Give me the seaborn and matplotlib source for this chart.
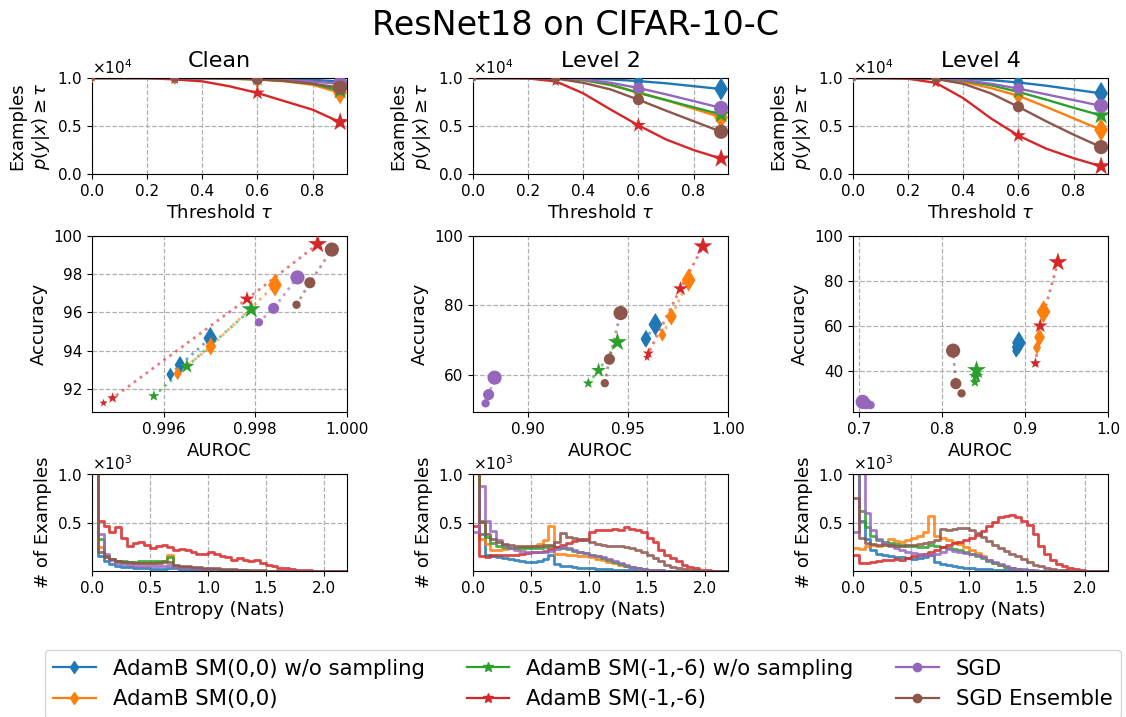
import numpy as np
import matplotlib
matplotlib.use("Agg")
import matplotlib.pyplot as plt
from matplotlib.lines import Line2D
import seaborn as sns

# ---------------------------------------------------------------- data
methods = ["AdamB SM(0,0) w/o sampling", "AdamB SM(0,0)",
           "AdamB SM(-1,-6) w/o sampling", "AdamB SM(-1,-6)",
           "SGD", "SGD Ensemble"]
levels = ["Clean", "Level 2", "Level 4"]

# confidence thresholds for the retained-example curves
thresholds = [0.0, 0.1, 0.2, 0.3, 0.4, 0.5, 0.6, 0.7, 0.8, 0.9]
marked_thresholds = [0.0, 0.3, 0.6, 0.9]

# number of examples with p(y|x) >= tau, per level and method
kept_clean = [
    [10000, 10000, 10000, 9995, 9988, 9975, 9955, 9910, 9820, 9620],
    [10000, 10000, 10000, 9990, 9970, 9920, 9850, 9650, 9300, 8450],
    [10000, 10000, 10000, 9990, 9975, 9930, 9870, 9700, 9400, 8700],
    [10000, 10000, 9990, 9850, 9650, 9130, 8440, 7570, 6700, 5400],
    [10000, 10000, 10000, 9995, 9985, 9960, 9900, 9780, 9620, 9400],
    [10000, 10000, 10000, 9990, 9975, 9940, 9870, 9700, 9400, 9000],
]
kept_level2 = [
    [10000, 10000, 10000, 9990, 9940, 9850, 9680, 9450, 9150, 8850],
    [10000, 10000, 10000, 9950, 9780, 9250, 8500, 7700, 6800, 5900],
    [10000, 10000, 10000, 9960, 9800, 9300, 8450, 7700, 6950, 6200],
    [10000, 10000, 9950, 9650, 8400, 6700, 5070, 3600, 2500, 1600],
    [10000, 10000, 10000, 9970, 9850, 9500, 8960, 8300, 7600, 6880],
    [10000, 10000, 10000, 9950, 9500, 8800, 7740, 6600, 5500, 4400],
]
kept_level4 = [
    [10000, 10000, 10000, 9980, 9920, 9780, 9530, 9200, 8800, 8400],
    [10000, 10000, 10000, 9940, 9600, 8950, 8150, 7000, 5800, 4600],
    [10000, 10000, 10000, 9950, 9730, 9250, 8550, 7750, 6900, 6100],
    [10000, 10000, 9920, 9500, 7900, 5800, 4000, 2650, 1650, 800],
    [10000, 10000, 10000, 9960, 9800, 9400, 8900, 8300, 7700, 7100],
    [10000, 10000, 10000, 9900, 9400, 8400, 7000, 5500, 4100, 2800],
]

# AUROC / accuracy at the four marked thresholds
auroc_clean = [
    [0.99614, 0.99615, 0.99636, 0.99702],
    [0.99630, 0.99631, 0.99703, 0.99843],
    [0.99578, 0.99579, 0.99651, 0.99791],
    [0.99469, 0.99489, 0.99782, 0.99936],
    [0.99807, 0.99808, 0.99840, 0.99892],
    [0.99889, 0.99890, 0.99919, 0.99967],
]
acc_clean = [
    [92.72, 92.75, 93.25, 94.64],
    [92.78, 92.80, 94.21, 97.43],
    [91.60, 91.62, 93.17, 96.16],
    [91.25, 91.51, 96.70, 99.57],
    [95.46, 95.48, 96.21, 97.83],
    [96.38, 96.40, 97.55, 99.29],
]
auroc_level2 = [
    [0.9585, 0.9586, 0.9590, 0.9637],
    [0.9671, 0.9672, 0.9717, 0.9803],
    [0.9300, 0.9302, 0.9353, 0.9447],
    [0.9595, 0.9602, 0.9762, 0.9875],
    [0.8787, 0.8788, 0.8803, 0.8833],
    [0.9383, 0.9384, 0.9407, 0.9463],
]
acc_level2 = [
    [69.9, 70.0, 70.4, 74.5],
    [71.4, 71.5, 76.8, 87.3],
    [57.5, 57.6, 61.3, 69.4],
    [65.0, 66.2, 84.8, 97.0],
    [51.7, 51.8, 54.3, 59.2],
    [57.5, 57.6, 64.5, 77.8],
]
auroc_level4 = [
    [0.8890, 0.8892, 0.8905, 0.8925],
    [0.9141, 0.9143, 0.9174, 0.9222],
    [0.8394, 0.8395, 0.8406, 0.8414],
    [0.9121, 0.9125, 0.9182, 0.9396],
    [0.7140, 0.7135, 0.7080, 0.7040],
    [0.8232, 0.8233, 0.8164, 0.8131],
]
acc_level4 = [
    [48.5, 48.9, 50.5, 52.5],
    [50.0, 50.3, 54.9, 66.3],
    [34.8, 35.0, 37.6, 40.3],
    [43.0, 43.5, 60.0, 88.3],
    [24.7, 24.8, 25.4, 26.2],
    [29.9, 30.0, 34.3, 49.0],
]

# predictive-entropy histograms (counts per 0.05-nat bin, 0 to 2.2 nats)
entropy_edges = [round(0.05 * i, 2) for i in range(45)]
hist_clean = [
    [7500, 150, 100, 70, 55, 45, 40, 35, 30, 28, 25, 25, 25, 30, 35, 15, 12, 10, 8, 7,
     6, 5, 4, 3, 3, 2, 2, 1, 1, 1, 0, 0, 0, 0, 0, 0, 0, 0, 0, 0, 0, 0, 0, 0],
    [6000, 250, 150, 120, 100, 90, 85, 80, 85, 80, 85, 90, 100, 160, 55, 45, 38, 32, 28, 24,
     20, 17, 14, 12, 10, 8, 6, 5, 4, 3, 2, 2, 1, 1, 0, 0, 0, 0, 0, 0, 0, 0, 0, 0],
    [6000, 330, 150, 120, 105, 100, 95, 95, 100, 100, 100, 100, 105, 140, 55, 45, 38, 32, 28, 24,
     20, 17, 14, 12, 10, 8, 6, 5, 4, 3, 2, 2, 1, 1, 0, 0, 0, 0, 0, 0, 0, 0, 0, 0],
    [2500, 517, 459, 397, 449, 339, 253, 288, 295, 270, 236, 260, 270, 243, 212, 226, 212, 192, 178, 178,
     192, 178, 158, 140, 116, 134, 116, 99, 110, 82, 65, 48, 31, 31, 20, 14, 10, 6, 4, 3, 2, 1, 1, 0],
    [5000, 380, 180, 110, 85, 70, 60, 55, 50, 50, 50, 52, 55, 62, 40, 35, 30, 26, 22, 19,
     16, 13, 11, 9, 7, 6, 5, 4, 3, 2, 2, 1, 1, 0, 0, 0, 0, 0, 0, 0, 0, 0, 0, 0],
    [8000, 200, 140, 120, 105, 95, 90, 85, 85, 85, 85, 85, 88, 95, 65, 55, 48, 42, 38, 34,
     30, 27, 24, 20, 17, 14, 12, 10, 8, 6, 5, 4, 3, 2, 1, 1, 0, 0, 0, 0, 0, 0, 0, 0],
]
hist_level2 = [
    [3000, 380, 170, 150, 140, 130, 120, 110, 100, 90, 90, 100, 120, 160, 70, 55, 48, 42, 36, 32,
     28, 24, 20, 16, 13, 10, 8, 6, 5, 4, 3, 2, 2, 1, 1, 0, 0, 0, 0, 0, 0, 0, 0, 0],
    [2500, 330, 280, 220, 220, 230, 240, 240, 250, 250, 260, 280, 320, 460, 180, 175, 170, 160, 155, 150,
     140, 125, 110, 95, 80, 65, 50, 38, 28, 20, 14, 9, 6, 4, 2, 1, 0, 0, 0, 0, 0, 0, 0, 0],
    [2500, 520, 350, 290, 260, 250, 240, 240, 240, 240, 240, 240, 250, 260, 250, 240, 225, 210, 200, 185,
     170, 150, 130, 110, 90, 70, 55, 40, 28, 20, 14, 9, 6, 4, 2, 1, 0, 0, 0, 0, 0, 0, 0, 0],
    [460, 150, 140, 160, 165, 160, 165, 170, 175, 185, 195, 200, 210, 230, 245, 265, 290, 310, 320, 325,
     400, 420, 425, 420, 430, 425, 455, 430, 420, 405, 340, 300, 220, 170, 134, 100, 65, 45, 31, 14, 6, 3, 1, 0],
    [400, 880, 520, 410, 320, 270, 240, 220, 210, 200, 195, 195, 200, 210, 225, 250, 235, 215, 200, 185,
     170, 155, 140, 120, 100, 80, 62, 45, 32, 22, 15, 10, 6, 4, 2, 1, 0, 0, 0, 0, 0, 0, 0, 0],
    [3000, 510, 380, 330, 300, 280, 270, 260, 255, 255, 255, 260, 265, 270, 300, 390, 350, 340, 330, 320,
     300, 280, 265, 255, 255, 255, 250, 240, 220, 200, 170, 134, 100, 65, 45, 31, 20, 12, 7, 4, 2, 1, 0, 0],
]
hist_level4 = [
    [1500, 520, 330, 220, 180, 165, 150, 145, 140, 135, 125, 130, 140, 170, 95, 75, 60, 50, 42, 35,
     30, 25, 20, 16, 13, 10, 8, 6, 5, 4, 3, 2, 1, 1, 0, 0, 0, 0, 0, 0, 0, 0, 0, 0],
    [240, 230, 260, 270, 260, 290, 330, 310, 300, 320, 340, 360, 400, 570, 360, 340, 320, 300, 280, 250,
     220, 185, 150, 115, 85, 60, 42, 28, 18, 11, 7, 4, 2, 1, 0, 0, 0, 0, 0, 0, 0, 0, 0, 0],
    [1500, 620, 450, 360, 320, 300, 290, 280, 270, 260, 255, 250, 250, 270, 255, 245, 235, 225, 215, 200,
     180, 155, 130, 105, 80, 60, 42, 28, 18, 11, 7, 4, 2, 1, 0, 0, 0, 0, 0, 0, 0, 0, 0, 0],
    [170, 80, 80, 90, 100, 110, 110, 120, 115, 130, 150, 160, 180, 195, 215, 250, 265, 285, 300, 320,
     340, 370, 410, 460, 510, 560, 570, 580, 560, 520, 470, 380, 260, 180, 116, 75, 50, 31, 18, 10, 5, 2, 1, 0],
    [400, 1100, 600, 420, 330, 290, 260, 240, 220, 200, 185, 175, 165, 170, 180, 200, 230, 210, 195, 185,
     175, 160, 140, 115, 92, 70, 52, 36, 25, 16, 10, 6, 3, 2, 1, 0, 0, 0, 0, 0, 0, 0, 0, 0],
    [750, 340, 290, 275, 270, 265, 265, 260, 260, 265, 270, 280, 290, 300, 320, 430, 420, 430, 440, 440,
     420, 390, 350, 310, 270, 240, 210, 180, 150, 120, 90, 65, 48, 30, 20, 12, 7, 4, 2, 1, 0, 0, 0, 0],
]

# ---------------------------------------------------------------- style
colors = sns.color_palette("tab10", 6)
markers = ["d", "d", "*", "*", "o", "o"]
marker_scale = [1.15, 1.15, 1.4, 1.4, 1.0, 1.0]
base_ms = [4.5, 6.0, 8.0, 10.2]         # marker size (pt) per marked threshold

kept_all = [kept_clean, kept_level2, kept_level4]
auroc_all = [auroc_clean, auroc_level2, auroc_level4]
acc_all = [acc_clean, acc_level2, acc_level4]
hist_all = [hist_clean, hist_level2, hist_level4]

acc_limits = [(90.78, 100), (49.3, 100), (21.7, 100)]
auroc_limits = [(0.99444, 1.0), (0.8725, 1.0), (0.6923, 1.0)]
acc_ticks = [[92, 94, 96, 98, 100], [60, 80, 100], [40, 60, 80, 100]]
auroc_ticks = [[0.996, 0.998, 1.0], [0.90, 0.95, 1.00], [0.7, 0.8, 0.9, 1.0]]
auroc_fmt = ["{:.3f}", "{:.2f}", "{:.1f}"]

plt.rcParams.update({
    "font.family": ["DejaVu Sans"],
    "xtick.labelsize": 11,
    "ytick.labelsize": 11,
    "axes.labelsize": 13,
})

W, H = 1126, 717
fig = plt.figure(figsize=(W / 100, H / 100), dpi=100)

col_left = [92, 473, 853]
col_w = 255
rows = {"top": (78, 174), "mid": (236, 412), "bot": (474, 571)}


def rect(col, row):
    top, bottom = rows[row]
    return [col_left[col] / W, 1 - bottom / H, col_w / W, (bottom - top) / H]


def style_grid(ax):
    ax.grid(True, linestyle="--", color="#b0b0b0", linewidth=0.9)
    ax.set_axisbelow(True)


mark_idx = [thresholds.index(t) for t in marked_thresholds]

for c, level in enumerate(levels):
    # ---- retained examples vs threshold
    ax = fig.add_axes(rect(c, "top"))
    for m in range(len(methods)):
        vals = kept_all[c][m]
        sns.lineplot(x=thresholds, y=vals, ax=ax, color=colors[m],
                     linewidth=1.7, estimator=None, sort=False)
        sizes = [(ms * marker_scale[m]) ** 2 for ms in base_ms]
        sns.scatterplot(x=marked_thresholds, y=[vals[i] for i in mark_idx],
                        ax=ax, color=colors[m], marker=markers[m], s=sizes,
                        edgecolor=colors[m], linewidth=0, zorder=3)
    ax.set_xlim(0, 0.925)
    ax.set_ylim(0, 10000)
    ax.set_xticks([0.0, 0.2, 0.4, 0.6, 0.8])
    ax.set_yticks([0, 5000, 10000])
    ax.ticklabel_format(axis="y", style="sci", scilimits=(0, 0), useMathText=True)
    ax.set_xlabel(r"Threshold $\tau$")
    ax.set_ylabel("Examples\n" + r"$p(y|x) \geq \tau$")
    ax.set_title(level, fontsize=16, pad=8)
    style_grid(ax)

    # ---- accuracy vs AUROC
    ax = fig.add_axes(rect(c, "mid"))
    for m in range(len(methods)):
        xs = auroc_all[c][m]
        ys = acc_all[c][m]
        sns.lineplot(x=xs, y=ys, ax=ax, color=colors[m], linewidth=2,
                     linestyle=":", alpha=0.6, estimator=None, sort=False)
        sizes = [(ms * marker_scale[m]) ** 2 for ms in base_ms]
        sns.scatterplot(x=xs, y=ys, ax=ax, color=colors[m], marker=markers[m],
                        s=sizes, edgecolor=colors[m], linewidth=0, zorder=3)
    ax.set_xlim(*auroc_limits[c])
    ax.set_ylim(*acc_limits[c])
    ax.set_xticks(auroc_ticks[c])
    ax.set_xticklabels([auroc_fmt[c].format(t) for t in auroc_ticks[c]])
    ax.set_yticks(acc_ticks[c])
    ax.set_xlabel("AUROC")
    ax.set_ylabel("Accuracy")
    style_grid(ax)

    # ---- entropy histograms
    ax = fig.add_axes(rect(c, "bot"))
    centers = [(a + b) / 2 for a, b in zip(entropy_edges[:-1], entropy_edges[1:])]
    for m in range(len(methods)):
        sns.histplot(x=centers, weights=hist_all[c][m], bins=entropy_edges,
                     element="step", fill=False, color=colors[m],
                     linewidth=2, alpha=0.85, ax=ax)
    ax.set_xlim(0, 2.2)
    ax.set_ylim(0, 1000)
    ax.set_xticks([0.0, 0.5, 1.0, 1.5, 2.0])
    ax.set_yticks([500, 1000])
    ax.ticklabel_format(axis="y", style="sci", scilimits=(0, 0), useMathText=True)
    ax.set_xlabel("Entropy (Nats)")
    ax.set_ylabel("# of Examples")
    style_grid(ax)

fig.text(0.511, 0.965, "ResNet18 on CIFAR-10-C", fontsize=24,
         ha="center", va="center")

handles = [Line2D([], [], color=colors[m], marker=markers[m], linewidth=1.6,
                  markersize=6 if markers[m] != "*" else 7)
           for m in range(len(methods))]
fig.legend(handles, methods, loc="upper center", bbox_to_anchor=(0.5175, 0.108),
           ncol=3, fontsize=15.3)

fig.savefig("out.png", dpi=100)
